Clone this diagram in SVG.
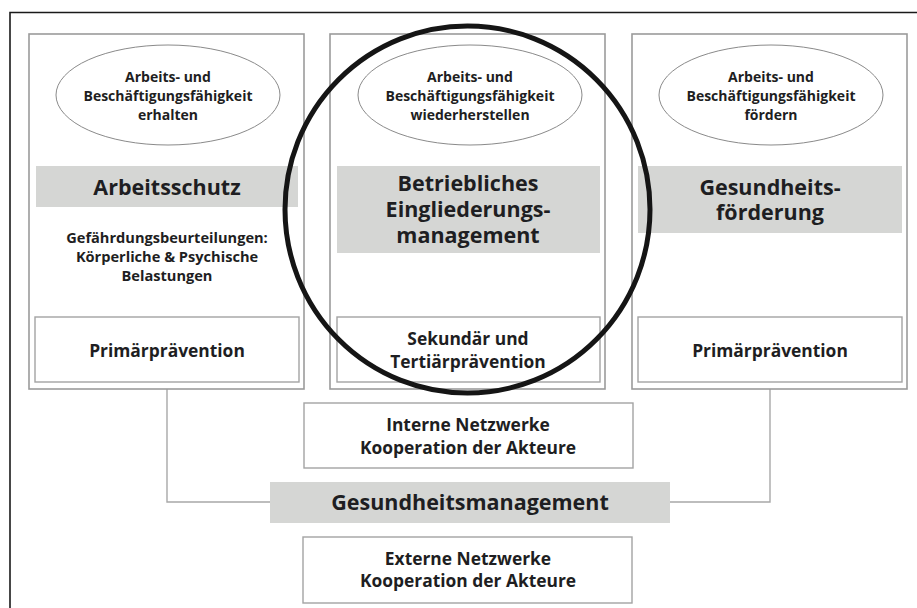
<svg xmlns="http://www.w3.org/2000/svg" width="917" height="608" viewBox="0 0 917 608">
  <style>
    .frame { fill: none; stroke: #1a1a1a; stroke-width: 1.6; }
    .col { fill: #ffffff; stroke: #9b9b9b; stroke-width: 1.6; }
    .box { fill: #ffffff; stroke: #a3a3a3; stroke-width: 1.4; }
    .band { fill: #d5d6d4; stroke: none; }
    .oval { fill: #ffffff; stroke: #8a8a8a; stroke-width: 1; }
    .link { fill: none; stroke: #a8a8a8; stroke-width: 1.4; }
    .ring { fill: none; stroke: #151515; stroke-width: 5; }
    text { font-family: "Open Sans", "Noto Sans", "DejaVu Sans", sans-serif; font-weight: bold; fill: #1e1e22; text-anchor: middle; }
    .s { font-size: 14px; }
    .m { font-size: 14.6px; }
    .p { font-size: 17.4px; }
    .l { font-size: 21.5px; }
  </style>

  <!-- outer frame: left and top edges -->
  <path class="frame" d="M10,608 V12.5 H917"/>

  <!-- connectors from the outer columns to Gesundheitsmanagement -->
  <g id="connectors">
    <path class="link" d="M167,389 V502 H270"/>
    <path class="link" d="M770,389 V502 H670"/>
  </g>

  <!-- left column -->
  <g id="col-arbeitsschutz">
    <rect class="col" x="29" y="34" width="275" height="355"/>
    <ellipse class="oval" cx="168" cy="95" rx="112" ry="50"/>
    <text class="s" x="168" y="82">Arbeits- und</text>
    <text class="s" x="168" y="101">Beschäftigungsfähigkeit</text>
    <text class="s" x="168" y="120">erhalten</text>
    <rect class="band" x="36" y="166" width="262" height="41"/>
    <text class="l" x="167" y="195">Arbeitsschutz</text>
    <text class="m" x="167" y="243">Gefährdungsbeurteilungen:</text>
    <text class="m" x="167" y="262">Körperliche &amp; Psychische</text>
    <text class="m" x="167" y="281">Belastungen</text>
    <rect class="box" x="35" y="317" width="264" height="65"/>
    <text class="p" x="167" y="357">Primärprävention</text>
  </g>

  <!-- middle column -->
  <g id="col-bem">
    <rect class="col" x="330" y="34" width="275" height="355"/>
    <ellipse class="oval" cx="470" cy="95" rx="112" ry="50"/>
    <text class="s" x="470" y="82">Arbeits- und</text>
    <text class="s" x="470" y="101">Beschäftigungsfähigkeit</text>
    <text class="s" x="470" y="120">wiederherstellen</text>
    <rect class="band" x="337" y="166" width="263" height="87"/>
    <text class="l" x="468" y="191">Betriebliches</text>
    <text class="l" x="468" y="217">Eingliederungs-</text>
    <text class="l" x="468" y="243">management</text>
    <rect class="box" x="337" y="317" width="263" height="65"/>
    <text class="p" x="468" y="345">Sekundär und</text>
    <text class="p" x="468" y="368">Tertiärprävention</text>
  </g>

  <!-- right column -->
  <g id="col-gesundheitsfoerderung">
    <rect class="col" x="632" y="34" width="275" height="355"/>
    <ellipse class="oval" cx="771" cy="95" rx="112" ry="50"/>
    <text class="s" x="771" y="82">Arbeits- und</text>
    <text class="s" x="771" y="101">Beschäftigungsfähigkeit</text>
    <text class="s" x="771" y="120">fördern</text>
    <rect class="band" x="638" y="166" width="264" height="67"/>
    <text class="l" x="770" y="195">Gesundheits-</text>
    <text class="l" x="770" y="220">förderung</text>
    <rect class="box" x="638" y="317" width="264" height="65"/>
    <text class="p" x="770" y="357">Primärprävention</text>
  </g>

  <!-- internal networks -->
  <g id="interne-netzwerke">
    <rect class="box" x="304" y="403" width="329" height="65"/>
    <text class="p" x="468" y="431">Interne Netzwerke</text>
    <text class="p" x="468" y="454">Kooperation der Akteure</text>
  </g>

  <!-- health management band -->
  <g id="gesundheitsmanagement">
    <rect class="band" x="270" y="482" width="400" height="41"/>
    <text class="l" x="470" y="510">Gesundheitsmanagement</text>
  </g>

  <!-- external networks -->
  <g id="externe-netzwerke">
    <rect class="box" x="303" y="537" width="329" height="66"/>
    <text class="p" x="468" y="565">Externe Netzwerke</text>
    <text class="p" x="468" y="587">Kooperation der Akteure</text>
  </g>

  <!-- highlight ring around the middle column -->
  <g id="highlight">
    <ellipse class="ring" cx="467.5" cy="209.5" rx="182.5" ry="183.5"/>
  </g>
</svg>
